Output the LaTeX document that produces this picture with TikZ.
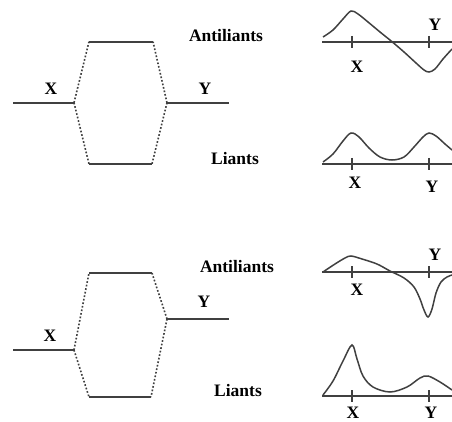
\documentclass[tikz,border=0pt]{standalone}
\usepackage{fontspec}
\setmainfont{Liberation Serif}
\begin{document}
\begin{tikzpicture}[x=1pt,y=-1pt,
  lvl/.style={draw=black!75, line width=1.7pt},
  corr/.style={draw=black!75, line width=1.6pt, dash pattern=on 1.7pt off 1.9pt},
  lab/.style={font=\fontsize{17.5}{20}\selectfont\bfseries, inner sep=0pt},
  axisln/.style={draw=black!75, line width=1.7pt},
  tick/.style={draw=black!75, line width=1.3pt},
  wave/.style={draw=black!75, line width=1.5pt, smooth, tension=0.55}]
\useasboundingbox (0,0) rectangle (452,422);

% ---------- top MO diagram ----------
\coordinate (xa1) at (13,102.7);  \coordinate (xa2) at (74,102.7);
\coordinate (ua1) at (89,41.7);   \coordinate (ua2) at (153,41.7);
\coordinate (la1) at (89,164);    \coordinate (la2) at (152,164);
\coordinate (ya1) at (167,102.7); \coordinate (ya2) at (229,102.7);
\draw[lvl] (xa1) -- (xa2);
\draw[lvl] (ua1) -- (ua2);
\draw[lvl] (la1) -- (la2);
\draw[lvl] (ya1) -- (ya2);
\draw[corr] (xa2) -- (ua1);
\draw[corr] (xa2) -- (la1);
\draw[corr] (ya1) -- (ua2);
\draw[corr] (ya1) -- (la2);
\node[lab] (xla) at (51,89) {X};
\node[lab] (yla) at (205,89) {Y};
\node[lab] (anta) at (226,36) {Antiliants};
\node[lab] (lia) at (235,159) {Liants};

% ---------- bottom MO diagram ----------
\coordinate (xb1) at (13,350);  \coordinate (xb2) at (74,350);
\coordinate (ub1) at (89,273);  \coordinate (ub2) at (152,273);
\coordinate (lb1) at (89,397);  \coordinate (lb2) at (151,397);
\coordinate (yb1) at (167,319); \coordinate (yb2) at (229,319);
\draw[lvl] (xb1) -- (xb2);
\draw[lvl] (ub1) -- (ub2);
\draw[lvl] (lb1) -- (lb2);
\draw[lvl] (yb1) -- (yb2);
\draw[corr] (xb2) -- (ub1);
\draw[corr] (xb2) -- (lb1);
\draw[corr] (yb1) -- (ub2);
\draw[corr] (yb1) -- (lb2);
\node[lab] (xlb) at (50,336) {X};
\node[lab] (ylb) at (204,302) {Y};
\node[lab] (antb) at (237,267) {Antiliants};
\node[lab] (lib) at (238,391) {Liants};

% ---------- wave 1: top antibonding ----------
\coordinate (a1s) at (322,41.7); \coordinate (a1e) at (452,41.7);
\draw[axisln] (a1s) -- (a1e);
\coordinate (a1xt) at (352,36); \coordinate (a1xb) at (352,48);
\coordinate (a1yt) at (429,36); \coordinate (a1yb) at (429,48);
\draw[tick] (a1xt) -- (a1xb);
\draw[tick] (a1yt) -- (a1yb);
\draw[wave] plot coordinates {(323,37) (333,30) (343,19) (351,11) (358,14)
  (368,22) (380,32) (392,41.7) (404,52) (416,63) (424,70) (429,72) (435,69)
  (443,59) (452,49)};
\node[lab] (w1x) at (357,67) {X};
\node[lab] (w1y) at (435,25) {Y};

% ---------- wave 2: top bonding ----------
\coordinate (a2s) at (322,164); \coordinate (a2e) at (452,164);
\draw[axisln] (a2s) -- (a2e);
\coordinate (a2xt) at (352,158); \coordinate (a2xb) at (352,170);
\coordinate (a2yt) at (429,158); \coordinate (a2yb) at (429,170);
\draw[tick] (a2xt) -- (a2xb);
\draw[tick] (a2yt) -- (a2yb);
\draw[wave] plot coordinates {(323,162) (333,154) (343,141) (351,133) (359,137)
  (369,148) (380,157) (392,160) (404,157) (414,147) (423,137) (429,133)
  (436,136) (445,144) (452,150)};
\node[lab] (w2x) at (355,183) {X};
\node[lab] (w2y) at (432,187) {Y};

% ---------- wave 3: bottom antibonding ----------
\coordinate (a3s) at (322,272); \coordinate (a3e) at (452,272);
\draw[axisln] (a3s) -- (a3e);
\coordinate (a3xt) at (352,266); \coordinate (a3xb) at (352,278);
\coordinate (a3yt) at (429,266); \coordinate (a3yb) at (429,278);
\draw[tick] (a3xt) -- (a3xb);
\draw[tick] (a3yt) -- (a3yb);
\draw[wave] plot coordinates {(323,272) (335,264) (345,258) (351,256) (362,259)
  (377,264) (390,271) (404,278) (414,287) (420,299) (424,310) (428,317)
  (432,309) (436,293) (441,282) (447,277) (452,275)};
\node[lab] (w3x) at (357,290) {X};
\node[lab] (w3y) at (435,255) {Y};

% ---------- wave 4: bottom bonding ----------
\coordinate (a4s) at (322,396); \coordinate (a4e) at (452,396);
\draw[axisln] (a4s) -- (a4e);
\coordinate (a4xt) at (352,390); \coordinate (a4xb) at (352,402);
\coordinate (a4yt) at (429,390); \coordinate (a4yb) at (429,402);
\draw[tick] (a4xt) -- (a4xb);
\draw[tick] (a4yt) -- (a4yb);
\draw[wave] plot coordinates {(323,395) (333,381) (343,361) (352,345) (357,359)
  (363,376) (373,387) (390,392) (407,387) (420,378) (428,376) (440,382)
  (452,390)};
\node[lab] (w4x) at (353,413) {X};
\node[lab] (w4y) at (431,413) {Y};
\end{tikzpicture}
\end{document}
